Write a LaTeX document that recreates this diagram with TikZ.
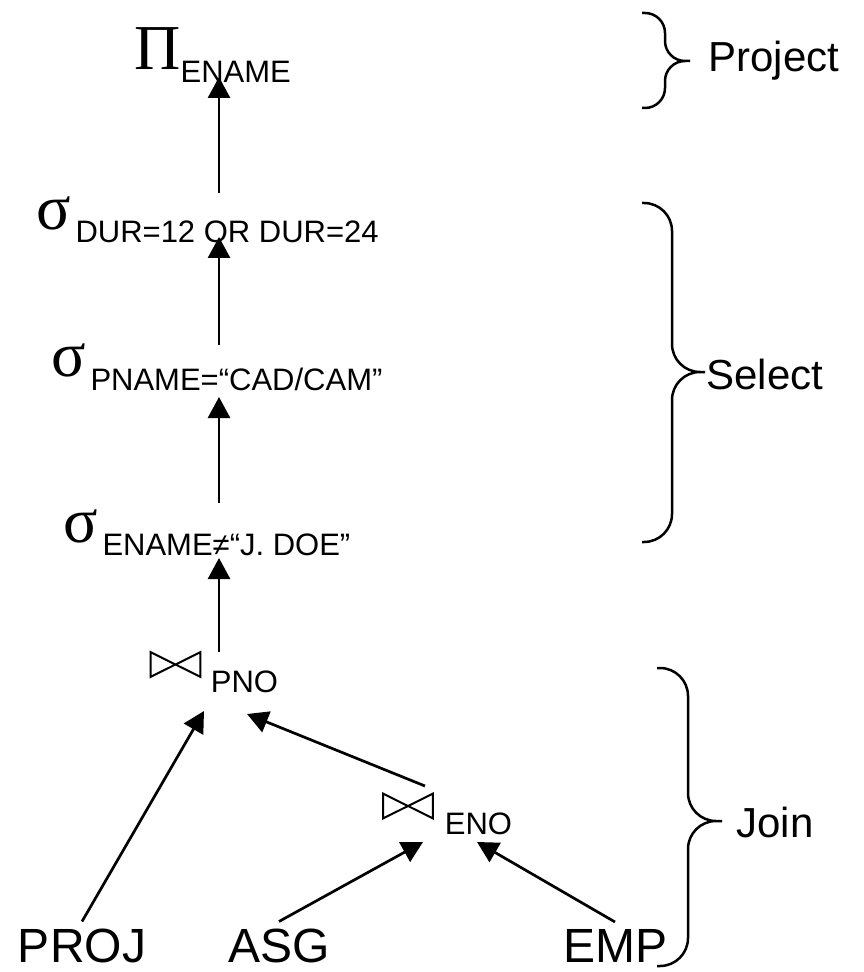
\documentclass[tikz,border=0pt]{standalone}
\usepackage{fontspec}
\setmainfont{Liberation Sans}
\newfontfamily\greekfont{Liberation Serif}
\usetikzlibrary{arrows.meta,positioning}

\newcommand{\opname}[3][0pt]{{\greekfont\fontsize{32}{36}\selectfont #2}\hspace{#1}\raisebox{-6.5pt}{\fontsize{15.5}{18}\selectfont #3}}

\tikzset{
  op/.style={anchor=base west, inner sep=0pt},
  attr/.style={anchor=base west, inner sep=0pt, font=\fontsize{15.5}{18}\selectfont},
  rel/.style={anchor=base, inner sep=0pt, outer sep=3.5pt, font=\fontsize{24}{28}\selectfont},
  tag/.style={anchor=base west, inner sep=0pt, font=\fontsize{21}{25}\selectfont},
  bowtie/.style={inner sep=0pt, minimum width=24.5pt, minimum height=12pt},
  flow/.style={-{Triangle[length=10.5pt,width=11pt]}, line width=1.35pt},
  grp/.style={line width=1.25pt}
}

\begin{document}
\begin{tikzpicture}[x=0.5pt, y=-0.5pt]
\useasboundingbox (0,0) rectangle (863,972);

% operators of the tree
\node (proj) [op] at (134,70) {\opname{Π}{ENAME}};
\node (selDur) [op] at (36,230) {\opname[2.3pt]{σ}{DUR=12 OR DUR=24}};
\node (selPname) [op] at (51,377) {\opname[2.3pt]{σ}{PNAME=“CAD/CAM”}};
\node (selEname) [op] at (63,542) {\opname[2.3pt]{σ}{ENAME≠“J. DOE”}};
\node (joinPno) [bowtie] at (175.5,664.5) {};
\node (pnoAttr) [attr] at (210.5,692) {PNO};
\node (joinEno) [bowtie] at (408,806) {};
\node (enoAttr) [attr] at (444.5,834) {ENO};
\foreach \j in {joinPno, joinEno}
  \draw [line width=1pt] (\j.south west) -- (\j.north east) -- (\j.south east) -- (\j.north west) -- cycle;

% relations
\node (PROJ) [rel] at (82,962) {PROJ};
\node (ASG) [rel] at (279,962) {ASG};
\node (EMP) [rel] at (615,962) {EMP};

% ports
\coordinate (projIn) at (219,77);
\coordinate (durOut) at (219,193);
\coordinate (durIn) at (219,237);
\coordinate (pnameOut) at (219,345);
\coordinate (pnameIn) at (219,397);
\coordinate (enameOut) at (219,503);
\coordinate (enameIn) at (219,558);
\coordinate (pnoOut) at (219,652);
\coordinate (pnoLeft) at (204,711);
\coordinate (pnoRight) at (247,714);
\coordinate (enoOut) at (425,786);
\coordinate (enoLeft) at (423,842);
\coordinate (enoRight) at (477,842);

\draw [flow] (durOut) -- (projIn);
\draw [flow] (pnameOut) -- (durIn);
\draw [flow] (enameOut) -- (pnameIn);
\draw [flow] (pnoOut) -- (enameIn);
\draw [flow] (PROJ.north) -- (pnoLeft);
\draw [flow] (enoOut) -- (pnoRight);
\draw [flow] (ASG.north) -- (enoLeft);
\draw [flow] (EMP.north) -- (enoRight);

% braces
\draw [grp, rounded corners=10pt] (642,13) -- (665,13) -- (665,61) -- (690,61)
  (690,61) -- (665,61) -- (665,108) -- (642,108);
\draw [grp, rounded corners=14pt] (642,203) -- (672,203) -- (672,372) -- (705,372)
  (705,372) -- (672,372) -- (672,542) -- (642,542);
\draw [grp, rounded corners=14pt] (657,668) -- (688,668) -- (688,821) -- (722,821)
  (722,821) -- (688,821) -- (688,966) -- (657,966);
\node (projectTag) [tag] at (708,72) {Project};
\node (selectTag) [tag] at (706,389) {Select};
\node (joinTag) [tag] at (736,837) {Join};
\end{tikzpicture}
\end{document}
